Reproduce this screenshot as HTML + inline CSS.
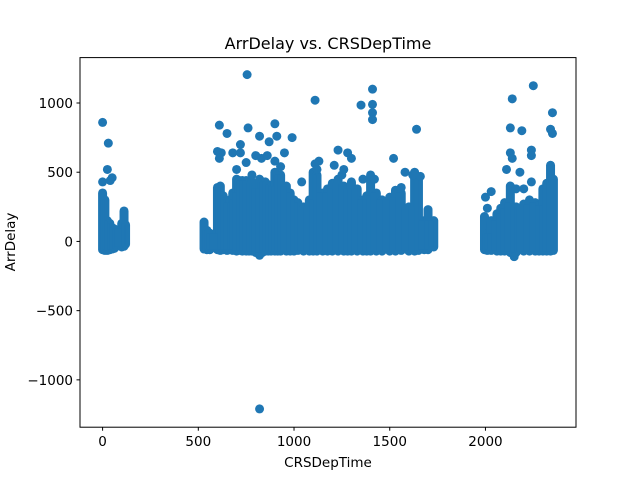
<!DOCTYPE html>
<html><head><meta charset="utf-8"><style>
body{margin:0;background:#fff;}
svg{display:block;font-family:"DejaVu Sans","Liberation Sans",sans-serif;}
</style></head><body>
<svg id="chart" width="640" height="480">
<rect width="640" height="480" fill="#fff"/>
<text x="328" y="49" font-size="16" text-anchor="middle">ArrDelay vs. CRSDepTime</text>
<g id="marks"></g>
<rect x="80" y="57.6" width="496" height="369.6" fill="none" stroke="#000" stroke-width="1"/>
<g id="axes"></g>
<text x="328" y="467" font-size="13.5" text-anchor="middle">CRSDepTime</text>
<text x="0" y="0" font-size="13.5" text-anchor="middle" transform="translate(15,242) rotate(-90)">ArrDelay</text>
</svg>
<script>
// dense column envelopes: time, low delay, high delay
const colTimes = [0,12,25,38,50,62,100,112,120,
530,545,560,600,615,630,650,665,680,700,715,730,750,765,780,800,820,835,850,865,880,900,915,930,960,980,1000,1020,1050,1080,1100,1120,1150,1175,1200,1230,1260,1280,1300,1330,1360,1380,1400,1430,1460,1500,1530,1560,1600,1630,1650,1680,1700,1730,
1995,2010,2030,2060,2080,2100,2130,2150,2160,2200,2230,2260,2280,2300,2320,2340,2355];
const colLows = [-60,-65,-65,-60,-55,-50,-40,-35,-20,
-55,-60,-60,-60,-65,-60,-65,-60,-65,-70,-65,-70,-70,-70,-70,-80,-100,-80,-70,-70,-70,-70,-70,-70,-70,-70,-70,-65,-70,-70,-70,-70,-70,-70,-70,-70,-70,-70,-70,-70,-70,-70,-70,-70,-70,-70,-70,-65,-70,-70,-65,-60,-60,-40,
-60,-65,-65,-70,-70,-70,-80,-110,-80,-70,-70,-70,-70,-70,-70,-70,-65];
const colHighs = [350,300,150,130,100,90,130,220,120,
140,80,60,390,400,330,280,300,350,450,440,440,440,420,430,380,450,430,430,410,400,500,480,480,400,350,300,280,250,300,500,480,350,380,420,450,400,380,430,380,300,330,470,350,300,320,370,350,250,480,460,150,230,150,
180,60,150,200,240,280,400,250,250,270,300,280,260,380,420,550,450];
// outlier points
const outTimes = [0,30,25,50,0,40,
755,1110,1410,1350,1410,1410,1410,1640,610,620,650,760,720,800,820,870,900,910,950,990,1230,1280,1300,1210,1360,1520,1580,1630,820,700,750,680,1040,1130,
600,610,720,780,830,860,900,930,1110,1120,1250,1260,1400,1420,1620,1660,1560,
2250,2140,2350,2130,2340,2350,2190,2130,2140,2240,2240,2110,2180,2240,2160,2200,2000,2030,2010];
const outDelays = [860,710,520,460,430,440,
1205,1020,1100,985,990,930,880,810,840,640,780,820,700,620,760,720,850,760,640,750,660,640,600,550,450,600,500,500,-1210,520,570,640,430,580,
650,600,640,480,600,620,580,540,560,520,480,520,480,450,480,470,390,
1125,1030,930,820,810,780,800,640,600,660,620,520,500,430,380,380,320,360,240];
const xTicks = [0,500,1000,1500,2000];
const yTicks = [1000,500,0,-500,-1000];
const yTickLabels = ["1000","500","0","\u2212500","\u22121000"];

const X0=80,X1=576,Y0=427.2,Y1=57.6;
const xMin=-118,xMax=2473,yMin=-1342,yMax=1328;
function sx(v){return X0+(v-xMin)/(xMax-xMin)*(X1-X0);}
function sy(v){return Y0-(v-yMin)/(yMax-yMin)*(Y0-Y1);}
const NS="http://www.w3.org/2000/svg";
const marks=document.getElementById('marks');
const C="#1f77b4";
for(let i=0;i<colTimes.length;i++){
  const l=document.createElementNS(NS,'line');
  l.setAttribute('x1',sx(colTimes[i]));l.setAttribute('x2',sx(colTimes[i]));
  l.setAttribute('y1',sy(colLows[i]));l.setAttribute('y2',sy(colHighs[i]));
  l.setAttribute('stroke',C);l.setAttribute('stroke-width','9');l.setAttribute('stroke-linecap','round');
  
  
  marks.appendChild(l);
}
for(let i=0;i<colTimes.length-1;i++){
  if(colTimes[i+1]-colTimes[i]>60) continue;
  const r=document.createElementNS(NS,'rect');
  const lo=Math.max(colLows[i],colLows[i+1]), hi=Math.min(colHighs[i],colHighs[i+1]);
  r.setAttribute('x',sx(colTimes[i]));r.setAttribute('width',sx(colTimes[i+1])-sx(colTimes[i]));
  r.setAttribute('y',sy(hi));r.setAttribute('height',Math.max(0,sy(lo)-sy(hi)));
  r.setAttribute('fill',C);
  
  
  marks.appendChild(r);
}
for(let i=0;i<outTimes.length;i++){
  const c=document.createElementNS(NS,'circle');
  c.setAttribute('cx',sx(outTimes[i]));c.setAttribute('cy',sy(outDelays[i]));c.setAttribute('r','4.5');c.setAttribute('fill',C);
  
  
  marks.appendChild(c);
}
const axes=document.getElementById('axes');
xTicks.forEach(t=>{
  const x=sx(t);
  const l=document.createElementNS(NS,'line');
  l.setAttribute('x1',x);l.setAttribute('x2',x);l.setAttribute('y1',427.2);l.setAttribute('y2',430.7);l.setAttribute('stroke','#000');
  
  
  axes.appendChild(l);
  const tx=document.createElementNS(NS,'text');
  tx.setAttribute('x',x);tx.setAttribute('y',446);tx.setAttribute('font-size','13.5');tx.setAttribute('text-anchor','middle');
  tx.textContent=String(t);
  
  
  axes.appendChild(tx);
});
yTicks.forEach((t,i)=>{
  const y=sy(t);
  const l=document.createElementNS(NS,'line');
  l.setAttribute('x1',76.5);l.setAttribute('x2',80);l.setAttribute('y1',y);l.setAttribute('y2',y);l.setAttribute('stroke','#000');
  
  
  axes.appendChild(l);
  const tx=document.createElementNS(NS,'text');
  tx.setAttribute('x',73);tx.setAttribute('y',y+5);tx.setAttribute('font-size','13.5');tx.setAttribute('text-anchor','end');
  tx.textContent=yTickLabels[i];
  
  
  axes.appendChild(tx);
});
</script>
</body></html>
